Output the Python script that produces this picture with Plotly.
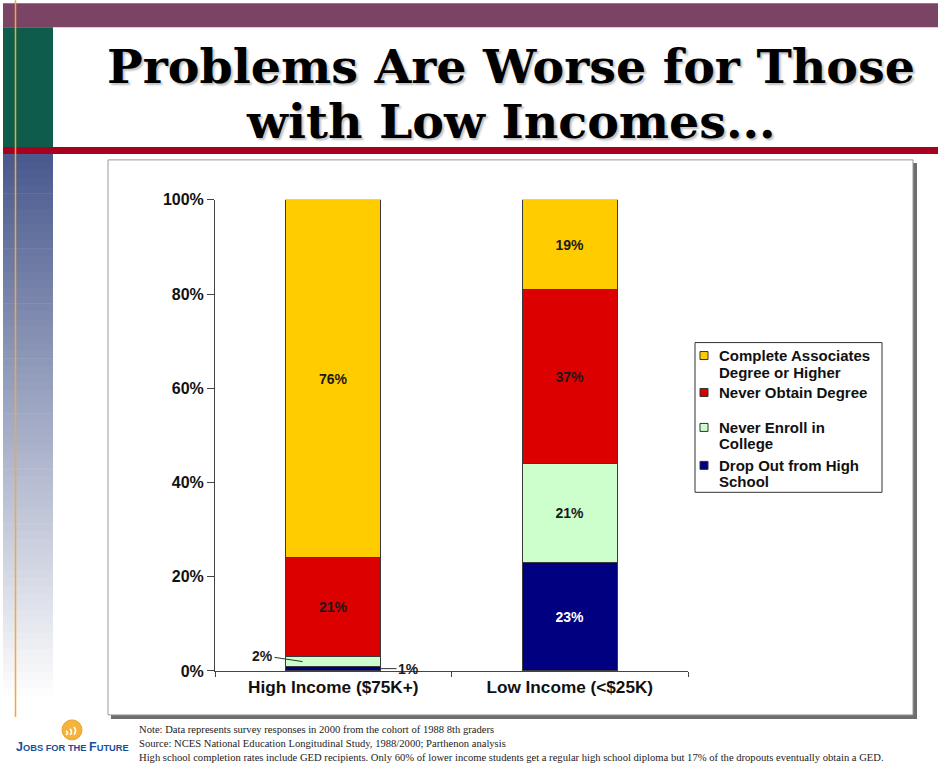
import plotly.graph_objects as go

W, H = 938, 767

# ---- data -------------------------------------------------------------
categories = ["High Income ($75K+)", "Low Income (<$25K)"]

series_names = [
    "Drop Out from High<br>School",
    "Never Enroll in<br>College",
    "Never Obtain Degree",
    "Complete Associates<br>Degree or Higher",
]
drop_out = [1, 23]
never_enroll = [2, 21]
never_obtain = [21, 37]
complete_degree = [76, 19]

series_values = [drop_out, never_enroll, never_obtain, complete_degree]
series_colors = ["#000080", "#CCFFCC", "#DD0000", "#FFCC00"]
label_colors = ["#FFFFFF", "#1A1A1A", "#1A1A1A", "#1A1A1A"]

y_ticks = [0, 20, 40, 60, 80, 100]

title_lines = ["Problems Are Worse for Those", "with Low Incomes..."]
footnote_lines = [
    "Note: Data represents survey responses in 2000 from the cohort of 1988 8th graders",
    "Source: NCES National Education Longitudinal Study, 1988/2000; Parthenon analysis",
    "High school completion rates include GED recipients. Only 60% of lower income students "
    "get a regular high school diploma but 17% of the dropouts eventually obtain a GED.",
]

SANS = "Liberation Sans, Arial, sans-serif"
SERIF = "Liberation Serif, Times New Roman, serif"
TITLE_FONT = "DejaVu Serif, serif"

# the page shows the figure with an 8px band above and below it, scaled to fit
PAGE_PAD = 8
PAGE_SCALE = H / (H + 2 * PAGE_PAD)


def px(x):
    return x / W


def py(y):
    """Slide y (px from top of the visible page) -> paper fraction."""
    y_fig = (y - PAGE_PAD * PAGE_SCALE) / PAGE_SCALE
    return 1 - y_fig / H


# ---- bars -------------------------------------------------------------
fig = go.Figure()
for name, vals, color, tcol in zip(series_names, series_values, series_colors, label_colors):
    fig.add_trace(go.Bar(
        name=name,
        x=categories,
        y=vals,
        marker=dict(color=color, line=dict(color="#3A3A3A", width=1)),
        text=[f"{v}%" if v >= 5 else "" for v in vals],
        textposition="inside",
        insidetextanchor="middle",
        textangle=0,
        textfont=dict(family=SANS, size=14, color=tcol, weight="bold"),
        hoverinfo="skip",
        showlegend=False,
    ))

annotations = []

# small segments of the first bar are labelled outside with leader lines
small_notes = [
    dict(x=-0.13, y=drop_out[0] + never_enroll[0] / 2, text=f"{never_enroll[0]}%", ax=-40, ay=-6),
    dict(x=0.2, y=drop_out[0] / 2, text=f"{drop_out[0]}%", ax=28, ay=0),
]
for n in small_notes:
    annotations.append(dict(
        x=n["x"], y=n["y"], xref="x", yref="y", text=n["text"],
        showarrow=True, arrowhead=0, arrowwidth=1, arrowcolor="#333333",
        ax=n["ax"], ay=n["ay"],
        font=dict(family=SANS, size=14, color="#1A1A1A", weight="bold"),
    ))

# ---- title ------------------------------------------------------------
for line, yc in zip(title_lines, [66, 121.5]):
    annotations.append(dict(
        x=px(511), y=py(yc), xref="paper", yref="paper", text=line,
        showarrow=False, xanchor="center", yanchor="middle",
        font=dict(family=TITLE_FONT, size=47.5, color="#000000", weight="bold",
                  shadow="2px 2px 2px rgba(0,0,0,0.25)"),
    ))

# ---- footnote ---------------------------------------------------------
annotations.append(dict(
    x=px(137), y=py(723), xref="paper", yref="paper",
    text="<br>".join(footnote_lines), showarrow=False,
    xanchor="left", yanchor="top", align="left",
    font=dict(family=SERIF, size=10.6, color="#222222"),
))

# ---- logo text --------------------------------------------------------
annotations.append(dict(
    x=px(72), y=py(748), xref="paper", yref="paper",
    text="<span style='font-size:12.5px'>J</span>OBS FOR THE "
         "<span style='font-size:12.5px'>F</span>UTURE",
    showarrow=False, xanchor="center", yanchor="middle",
    font=dict(family=SANS, size=9.3, color="#1C4F9B", weight="bold"),
))

# ---- slide decoration shapes ------------------------------------------
shapes = []


def rect(x0, y0, x1, y1, fill, line_color=None, line_width=0, layer="below"):
    shapes.append(dict(
        type="rect", xref="paper", yref="paper",
        x0=px(x0), x1=px(x1), y0=py(y1), y1=py(y0),
        fillcolor=fill, layer=layer,
        line=dict(color=line_color or fill, width=line_width),
    ))


rect(3, 3, 938, 27, "#7B4465")          # top band
rect(3, 27, 53, 147, "#0E5D4C")         # green block
rect(3, 147, 938, 154, "#A8001F")       # red rule

# blue sidebar fading to white
top_rgb = (74, 90, 142)
n_bands = 70
y_start, y_end = 154, 705
for i in range(n_bands):
    t = i / (n_bands - 1)
    c = tuple(int(round(a + (255 - a) * t)) for a in top_rgb)
    y0 = y_start + (y_end - y_start) * i / n_bands
    y1 = y_start + (y_end - y_start) * (i + 1) / n_bands + 0.6
    rect(3, y0, 53, y1, "rgb(%d,%d,%d)" % c)

# thin orange vertical rule
shapes.append(dict(type="line", xref="paper", yref="paper",
                   x0=px(15.5), x1=px(15.5), y0=py(0), y1=py(718),
                   line=dict(color="#F2A93B", width=1.5), layer="below"))

# chart panel with drop shadow
rect(111, 163, 917, 720, "#6E6E6E")
rect(108, 160, 913, 716, "#FFFFFF", line_color="#9A9A9A", line_width=1)

# ---- legend (boxed, symbol beside first text line) ---------------------
rect(695, 343, 882, 493, "#FFFFFF", line_color="#333333", line_width=1, layer="above")
legend_rows = [466, 428, 393, 356]      # first-line centres, bottom series first
for name, color, yc in zip(series_names, series_colors, legend_rows):
    rect(700, yc - 4, 708, yc + 4, color, line_color="#333333", line_width=1, layer="above")
    for k, part in enumerate(name.split("<br>")):
        annotations.append(dict(
            x=px(717), y=py(yc + 16.5 * k), xref="paper", yref="paper", text=part,
            showarrow=False, xanchor="left", yanchor="middle", align="left",
            font=dict(family=SANS, size=15, color="#111111", weight="bold"),
        ))

# logo mark
shapes.append(dict(type="circle", xref="paper", yref="paper",
                   x0=px(62), x1=px(82), y0=py(741), y1=py(721),
                   fillcolor="#F4B43C", line=dict(color="#E9A12A", width=1), layer="above"))
for dx, h in [(0, 4), (4, 6), (8, 8)]:
    xa = 66 + dx
    path = "M %f %f Q %f %f %f %f" % (
        px(xa), py(736), px(xa + 3), py(736 - h / 2), px(xa), py(736 - h))
    shapes.append(dict(type="path", xref="paper", yref="paper", path=path,
                       line=dict(color="#FFFFFF", width=1.6), layer="above"))

# ---- layout -----------------------------------------------------------
fig.update_layout(
    width=W, height=H,
    margin=dict(l=0, r=0, t=0, b=0),
    paper_bgcolor="#FFFFFF",
    plot_bgcolor="rgba(0,0,0,0)",
    barmode="stack",
    bargap=0.6,
    showlegend=False,
    xaxis=dict(
        domain=[px(215), px(688)], type="category", range=[-0.5, 1.5],
        showline=True, linecolor="#444444", linewidth=1,
        ticks="outside", tickson="boundaries", ticklen=5, tickcolor="#444444",
        showgrid=False, zeroline=False,
        tickfont=dict(family=SANS, size=17.2, color="#111111", weight="bold"),
    ),
    yaxis=dict(
        domain=[py(672), py(200)], range=[0, 100],
        tickvals=y_ticks, ticktext=[f"{v}%" for v in y_ticks],
        showline=True, linecolor="#444444", linewidth=1,
        ticks="outside", ticklen=7, tickcolor="#444444",
        showgrid=False, zeroline=False,
        tickfont=dict(family=SANS, size=16, color="#111111", weight="bold"),
    ),
    shapes=shapes,
    annotations=annotations,
)

fig.write_html("out.html", config={"displayModeBar": False})
